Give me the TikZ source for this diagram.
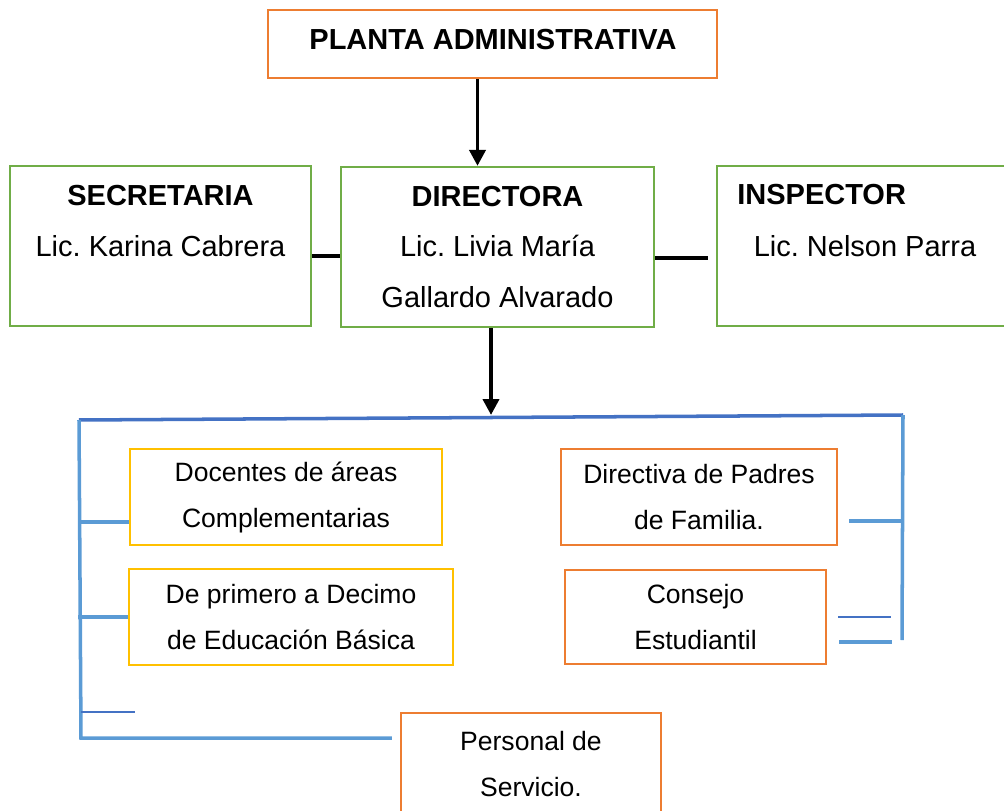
\documentclass[tikz,border=0pt]{standalone}
\usepackage{fontspec}
\setmainfont{Liberation Sans}
\usetikzlibrary{arrows.meta,calc}
\definecolor{orgline}{HTML}{ED7D31}
\definecolor{grnline}{HTML}{70AD47}
\definecolor{yelline}{HTML}{FFC000}
\definecolor{ltblue}{HTML}{5B9BD5}
\definecolor{dkblue}{HTML}{4472C4}
\frenchspacing

\begin{document}
\begin{tikzpicture}[x=0.02cm,y=-0.02cm,
  box/.style={draw,line width=1.3pt,inner sep=0pt,align=center},
  big/.style={font=\fontsize{16.5}{29}\selectfont},
  small/.style={font=\fontsize{15.1}{26.2}\selectfont},
  arr/.style={line width=2.2pt,-{Triangle[width=3.2mm,length=3.2mm]}},
  link/.style={line width=2.2pt},
  bus/.style={line width=2pt,ltblue},
  stub/.style={line width=1.3pt,dkblue}]
\useasboundingbox (0,0) rectangle (1004,811);
% top level
\node[box,draw=orgline,minimum width=8.98cm,minimum height=1.36cm] (plan) at (492.5,44) {};
\node[big,inner sep=0pt] (plant) at (493,40) {\textbf{PLANTA ADMINISTRATIVA}};
\node[box,big,draw=grnline,minimum width=6.02cm,minimum height=3.2cm] (sec) at (160.5,246) {\textbf{SECRETARIA}\\Lic. Karina Cabrera\\\mbox{}};
\node[box,big,draw=grnline,minimum width=6.26cm,minimum height=3.2cm] (dir) at (497.5,247) {\textbf{DIRECTORA}\\Lic. Livia María\\Gallardo Alvarado};
\node[box,draw=grnline,minimum width=6.4cm,minimum height=3.2cm] (insp) at (877,246) {};
\node[big,inner sep=0pt,anchor=west] (inspt) at (737,195) {\textbf{INSPECTOR}};
\node[big,inner sep=0pt] (inspn) at (865,246) {Lic. Nelson Parra};
% second level
\node[box,small,draw=yelline,minimum width=6.24cm,minimum height=1.92cm] (doc) at (286,497) {Docentes de áreas\\Complementarias};
\node[box,small,draw=yelline,minimum width=6.48cm,minimum height=1.92cm] (prim) at (291,617) {De primero a Decimo\\de Educación Básica};
\node[box,small,draw=orgline,minimum width=5.52cm,minimum height=1.92cm] (dirp) at (699,497) {Directiva de Padres\\de Familia.};
\node[box,small,draw=orgline,minimum width=5.22cm,minimum height=1.88cm] (cons) at (695.5,617) {Consejo\\Estudiantil};
\node[box,small,draw=orgline,minimum width=5.2cm,minimum height=2.04cm] (pers) at (531,764) {Personal de\\Servicio.};
% connectors
\coordinate (tl) at (79,420);
\coordinate (tr) at (903,415);
\coordinate (bl) at (81,738);
\coordinate (br) at (902,640);
\coordinate (bus) at (491,415);
\draw[arr] ([xshift=-3mm]plan.south) -- ([xshift=-3mm]plan.south |- dir.north);
\draw[link] ([yshift=-2mm]sec.east) -- ([yshift=-2mm]sec.east -| dir.west);
\draw[link] ([yshift=-2.2mm]dir.east) -- ++(53,0);
\draw[arr] (dir.south -| bus) -- (bus);
\draw[line width=2pt,dkblue] (tl) -- (tr);
\draw[bus] (tl) -- (bl) -- ([xshift=-1.6mm]bl -| pers.west);
\draw[bus] (tr) -- (br);
\draw[bus] ([yshift=4.8mm]doc.south west) -- ++(-51,0);
\draw[bus] (prim.west) -- ++(-50,0);
\draw[stub] ([yshift=5.2mm]bl) -- ++(54,0);
\draw[bus] ([xshift=2.2mm,yshift=5mm]dirp.south east) -- ++(54,0);
\draw[stub] ([xshift=2.2mm]cons.east) -- ++(53,0);
\draw[bus] ([xshift=2.4mm,yshift=-5mm]cons.east) -- ++(53,0);
\end{tikzpicture}
\end{document}
